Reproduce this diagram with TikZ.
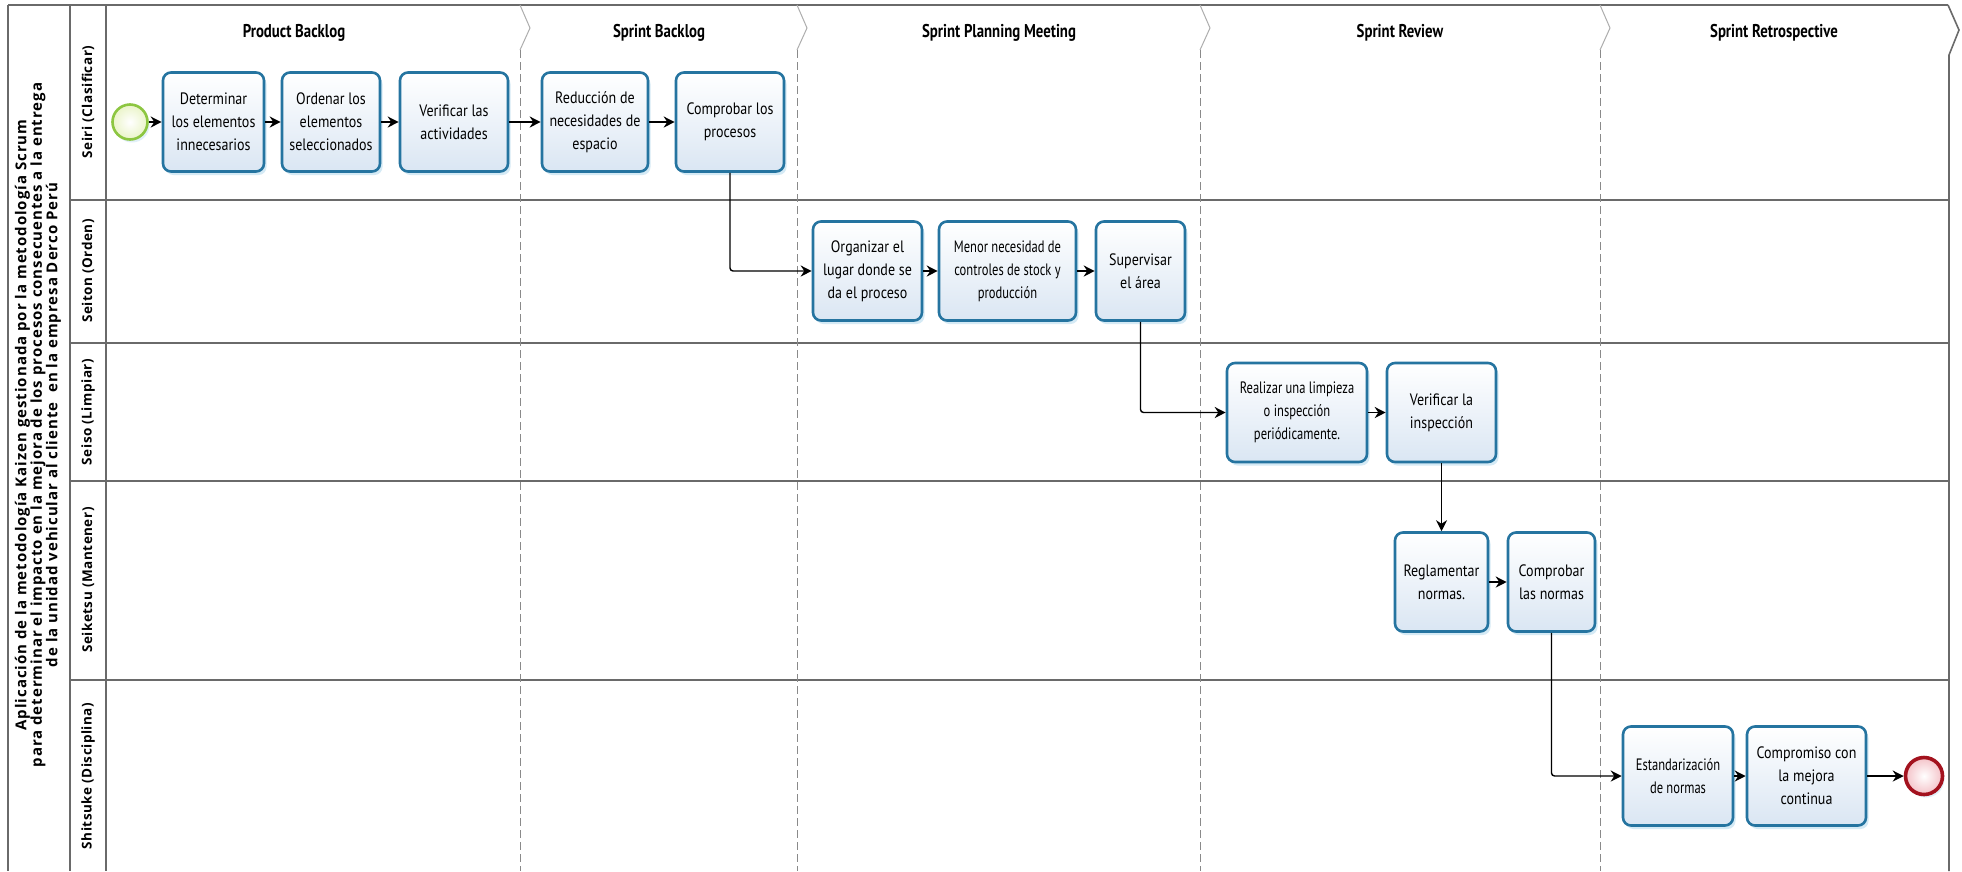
\documentclass[tikz,border=0pt]{standalone}
\usepackage{fontspec}
\setmainfont{Open Sans}
\newfontfamily\lanefont[LetterSpace=4]{Open Sans}
\newfontfamily\titlefont[LetterSpace=6.5]{Open Sans}
\newfontfamily\taskfont[FakeStretch=0.85]{PT Sans}
\newfontfamily\tighttaskfont[FakeStretch=0.76]{PT Sans}
\newfontfamily\phasefont[FakeStretch=0.8]{PT Sans}
\usetikzlibrary{arrows.meta,shadows}

\definecolor{frameline}{HTML}{6A6A6A}
\definecolor{dividerline}{HTML}{8A8A8A}
\definecolor{taskedge}{HTML}{2574A0}
\definecolor{taskfill}{HTML}{DAE6F3}
\definecolor{taskglow}{HTML}{B4DAEE}
\definecolor{startedge}{HTML}{8DC641}
\definecolor{startfill}{HTML}{EAF4C8}
\definecolor{endedge}{HTML}{A3121E}
\definecolor{endfill}{HTML}{F4C2C8}

\begin{document}
\begin{tikzpicture}[x=1pt,y=-1pt,
  frame/.style={draw=frameline,line width=1.6pt},
  chev/.style={draw=dividerline!70,line width=1pt},
  divider/.style={draw=dividerline,line width=1pt,dash pattern=on 8pt off 4pt},
  lanelabel/.style={rotate=90,font=\lanefont\bfseries\fontsize{13.5}{15}\selectfont},
  phase/.style={font=\phasefont\bfseries\fontsize{18.5}{20}\selectfont},
  task/.style={rectangle,rounded corners=8pt,draw=taskedge,line width=2.6pt,
    top color=white,bottom color=taskfill,minimum height=99pt,inner sep=2pt,
    align=center,font=\taskfont\fontsize{16.5}{23}\selectfont,
    drop shadow={shadow xshift=2.5pt,shadow yshift=-3.5pt,fill=taskglow,opacity=0.55}},
  tight/.style={font=\tighttaskfont\fontsize{16.5}{23}\selectfont},
  startev/.style={circle,draw=startedge,line width=2.6pt,minimum size=35pt,
    inner color=white,outer color=startfill,
    drop shadow={shadow xshift=2pt,shadow yshift=-3pt,fill=taskglow,opacity=0.4}},
  endev/.style={circle,draw=endedge,line width=3.6pt,minimum size=37pt,
    inner color=white,outer color=endfill,
    drop shadow={shadow xshift=2pt,shadow yshift=-3pt,fill=taskglow,opacity=0.4}},
  flow/.style={draw=black,line width=1.4pt,rounded corners=3pt,
    -{Stealth[length=11pt,width=11pt]}}
]
\useasboundingbox (0,0) rectangle (1962,871);
\fill[white] (0,0) rectangle (1962,871);

% pool frame, title column and lane label column
\draw[frame] (8,5) -- (1948,5);
\draw[frame] (8,5) -- (8,871);
\draw[frame] (70,5) -- (70,871);
\draw[frame] (106,5) -- (106,871);
\foreach \yy in {200,343,481,680}
  \draw[frame] (70,\yy) -- (1949,\yy);
\draw[frame] (1948,5) -- (1959,30) -- (1949,55) -- (1949,871);

% phase separators
\foreach \xx in {520,797,1200,1600} {
  \draw[chev] (\xx,5) -- (\xx+10,28) -- (\xx,50);
  \draw[divider] (\xx,50) -- (\xx,871);
}

% pool title
\node[rotate=90,align=center,inner sep=0pt,
      font=\titlefont\bfseries\fontsize{15}{15.5}\selectfont]
  (title) at (38,425)
  {Aplicación de la metodología Kaizen gestionada por la metodología Scrum\\
   para determinar el impacto en la mejora de los procesos consecuentes a la entrega\\
   de la unidad vehicular al cliente\ \ en la empresa Derco Perú};

% lane labels
\node[lanelabel] (lseiri)    at (88,102)   {Seiri (Clasificar)};
\node[lanelabel] (lseiton)   at (88,271)   {Seiton (Orden)};
\node[lanelabel] (lseiso)    at (88,412)   {Seiso (Limpiar)};
\node[lanelabel] (lseiketsu) at (88,580)   {Seiketsu (Mantener)};
\node[lanelabel] (lshitsuke) at (88,776)   {Shitsuke (Disciplina)};

% phase headers
\node[phase] (hpb)  at (294,33)  {Product Backlog};
\node[phase] (hsb)  at (659,33)  {Sprint Backlog};
\node[phase] (hspm) at (999,33)  {Sprint Planning Meeting};
\node[phase] (hsr)  at (1400,33) {Sprint Review};
\node[phase] (hsre) at (1774,33) {Sprint Retrospective};

% Seiri
\node[startev] (start) at (130,122) {};
\node[task,minimum width=101pt] (d1) at (213.5,122) {Determinar\\los elementos\\innecesarios};
\node[task,minimum width=98pt]  (d2) at (331,122)   {Ordenar los\\elementos\\seleccionados};
\node[task,minimum width=108pt] (d3) at (454,122)   {Verificar las\\actividades};
\node[task,minimum width=106pt] (d4) at (595,122)   {Reducción de\\necesidades de\\espacio};
\node[task,minimum width=108pt] (d5) at (730,122)   {Comprobar los\\procesos};

% Seiton
\node[task,minimum width=109pt] (o1) at (867.5,271)  {Organizar el\\lugar donde se\\da el proceso};
\node[task,tight,minimum width=137pt] (o2) at (1007.5,271) {Menor necesidad de\\controles de stock y\\producción};
\node[task,minimum width=89pt]  (o3) at (1140.5,271) {Supervisar\\el área};

% Seiso
\node[task,tight,minimum width=140pt] (l1) at (1297,412.5) {Realizar una limpieza\\o inspección\\periódicamente.};
\node[task,minimum width=109pt] (l2) at (1441.5,412.5) {Verificar la\\inspección};

% Seiketsu
\node[task,minimum width=93pt] (m1) at (1441.5,582) {Reglamentar\\normas.};
\node[task,minimum width=87pt] (m2) at (1551.5,582) {Comprobar\\las normas};

% Shitsuke
\node[task,tight,minimum width=110pt] (s1) at (1678,776) {Estandarización\\de normas};
\node[task,minimum width=119pt] (s2) at (1806.5,776) {Compromiso con\\la mejora\\continua};
\node[endev] (finish) at (1924,776) {};

% sequence flows
\draw[flow] (start) -- (d1);
\draw[flow] (d1) -- (d2);
\draw[flow] (d2) -- (d3);
\draw[flow] (d3) -- (d4);
\draw[flow] (d4) -- (d5);
\draw[flow] (d5.south) |- (o1.west);
\draw[flow] (o1) -- (o2);
\draw[flow] (o2) -- (o3);
\draw[flow] (o3.south) |- (l1.west);
\draw[flow] (l1) -- (l2);
\draw[flow] (l2.south) -- (m1.north);
\draw[flow] (m1) -- (m2);
\draw[flow] (m2.south) |- (s1.west);
\draw[flow] (s1) -- (s2);
\draw[flow] (s2) -- (finish);
\end{tikzpicture}
\end{document}
